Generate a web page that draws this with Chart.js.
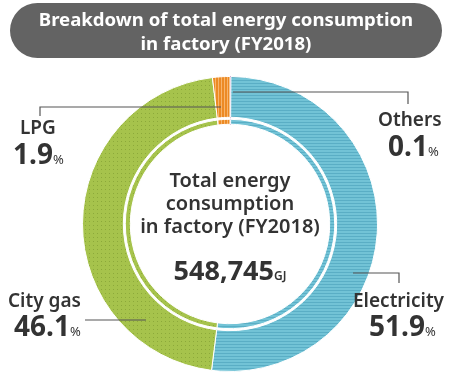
<!DOCTYPE html>
<html><head><meta charset="utf-8">
<script src="https://cdn.jsdelivr.net/npm/chart.js@4/dist/chart.umd.min.js"></script>
<style>
html,body{margin:0;padding:0;background:#fff;}
#wrap{position:relative;width:453px;height:380px;font-family:"Noto Sans",sans-serif;color:#333;}
canvas{position:absolute;left:0;top:0;}
.t{position:absolute;white-space:nowrap;}
#title{position:absolute;left:10px;top:3px;width:432px;height:55px;border-radius:28px;background:#636363;color:#fff;font-weight:700;font-size:18.6px;line-height:24px;text-align:center;box-sizing:border-box;padding-top:4px;}
.lab{font-size:19px;font-weight:600;line-height:22px;}
.pct{font-size:28px;font-weight:700;line-height:30px;}
.pct small{font-size:13px;font-weight:400;}
#center{position:absolute;left:130px;width:200px;top:168px;text-align:center;font-size:20px;font-weight:600;line-height:23px;}
#total{position:absolute;left:130px;width:200px;top:251px;text-align:center;font-size:27px;font-weight:700;}
#total small{font-size:12px;font-weight:600;}
</style></head>
<body><div id="wrap">
<canvas id="c" width="453" height="380"></canvas>
<div id="title">Breakdown of total energy consumption<br>in factory (FY2018)</div>
<div id="center">Total energy<br>consumption<br>in factory (FY2018)</div>
<div id="total">548,745<small>GJ</small></div>
<div class="t lab" style="left:20px;top:116px;">LPG</div>
<div class="t pct" style="left:13px;top:138px;">1.9<small>%</small></div>
<div class="t lab" style="left:378px;top:108px;">Others</div>
<div class="t pct" style="left:388px;top:130px;">0.1<small>%</small></div>
<div class="t lab" style="left:8px;top:289px;">City gas</div>
<div class="t pct" style="left:14px;top:310px;">46.1<small>%</small></div>
<div class="t lab" style="left:353px;top:289px;">Electricity</div>
<div class="t pct" style="left:369px;top:310px;">51.9<small>%</small></div>
</div>
<script>
const categories = ["Others", "Electricity", "City gas", "LPG"];
const shares = [0.1, 51.9, 46.1, 1.9];

function pat(type){
  const c=document.createElement('canvas');
  const ctx=c.getContext('2d');
  if(type==='blue'){c.width=4;c.height=3;ctx.fillStyle='#72c3d6';ctx.fillRect(0,0,4,3);ctx.fillStyle='#5aaec5';ctx.fillRect(0,2,4,1);}
  else if(type==='green'){c.width=4;c.height=4;ctx.fillStyle='#a6c34c';ctx.fillRect(0,0,4,4);ctx.fillStyle='#8ca93a';ctx.fillRect(1,1,1,1);}
  else if(type==='orange'){c.width=3;c.height=3;ctx.fillStyle='#ec8a24';ctx.fillRect(0,0,3,3);ctx.fillStyle='#f7b46c';ctx.fillRect(2,0,1,3);}
  else {c.width=1;c.height=1;ctx.fillStyle='#a2449b';ctx.fillRect(0,0,1,1);}
  return document.createElement('canvas').getContext('2d').createPattern(c,'repeat');
}
const fills=[pat('purple'),pat('blue'),pat('green'),pat('orange')];
const borders=['#a2449b','#fff','#fff','#fff'];

const leaders={id:'leaders',afterDraw(ch){
  const g=ch.ctx;g.save();g.strokeStyle='#555';g.lineWidth=1.2;
  const L=[[[40,116],[40,107],[221,107]],[[233,92],[408,92],[408,104]],[[85,320],[146,320]],[[353,273],[399,273],[399,283]]];
  L.forEach(p=>{g.beginPath();g.moveTo(p[0][0],p[0][1]);for(let i=1;i<p.length;i++)g.lineTo(p[i][0],p[i][1]);g.stroke();});
  g.restore();
}};

new Chart(document.getElementById('c'),{
  type:'doughnut',
  data:{labels:categories,datasets:[
    {data:shares,backgroundColor:fills,borderColor:borders,borderWidth:1,weight:41},
    {data:shares,backgroundColor:'rgba(0,0,0,0)',borderWidth:0,weight:2},
    {data:shares,backgroundColor:fills,borderColor:borders,borderWidth:1,weight:5}
  ]},
  options:{responsive:false,animation:false,cutout:'67.6%',rotation:0,
    layout:{padding:{top:76,bottom:8,left:82,right:75}},
    plugins:{legend:{display:false},tooltip:{enabled:false}}},
  plugins:[leaders]
});
</script>
</body></html>
